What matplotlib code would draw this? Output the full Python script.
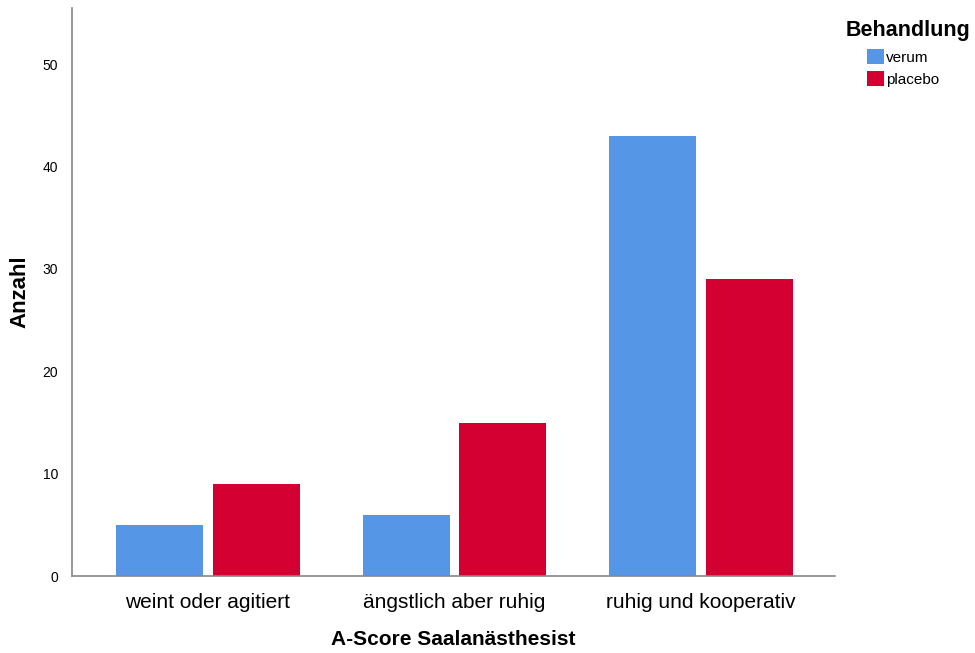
import numpy as np
import matplotlib
matplotlib.use("Agg")
import matplotlib.pyplot as plt

categories = ["weint oder agitiert", "ängstlich aber ruhig", "ruhig und kooperativ"]
verum = [5, 6, 43]
placebo = [9, 15, 29]
series_names = ["verum", "placebo"]
colors = ["#5596E6", "#D50032"]

plt.rcParams['font.family'] = ['Liberation Sans', 'DejaVu Sans']

fig = plt.figure(figsize=(9.75, 6.53), dpi=100)
ax = fig.add_axes([0.0738, 0.1179, 0.7826, 0.8698])

x = np.arange(len(categories))
w = 0.353
off = 0.196
ax.bar(x - off, verum, w, color=colors[0], label=series_names[0])
ax.bar(x + off, placebo, w, color=colors[1], label=series_names[1])

ax.set_xlim(-0.552, 2.544)
ax.set_ylim(0, 55.5)
ax.set_yticks([0, 10, 20, 30, 40, 50])
ax.set_xticks(x)
ax.set_xticklabels(categories, fontsize=15)
ax.tick_params(axis='y', length=0, labelsize=10, pad=10)
ax.tick_params(axis='x', length=0, pad=12)

for s in ['top', 'right']:
    ax.spines[s].set_visible(False)
for s in ['left', 'bottom']:
    ax.spines[s].set_color('#888888')
    ax.spines[s].set_linewidth(1.2)

ax.set_xlabel("A-Score Saalanästhesist", fontsize=15, fontweight='bold')
ax.xaxis.set_label_coords(0.5, -0.0958)
ax.set_ylabel("Anzahl", fontsize=16, fontweight='bold')
ax.yaxis.set_label_coords(-0.054, 0.5)

fig.text(0.867, 0.954, "Behandlung", fontsize=15.5, fontweight='bold', va='center', ha='left')
leg = fig.legend(loc='upper left', bbox_to_anchor=(0.889, 0.925), frameon=False,
                 fontsize=11, handlelength=1.1, handleheight=1.1,
                 handletextpad=0.15, labelspacing=0.45, borderaxespad=0, borderpad=0)

fig.savefig("out.png", dpi=100)
